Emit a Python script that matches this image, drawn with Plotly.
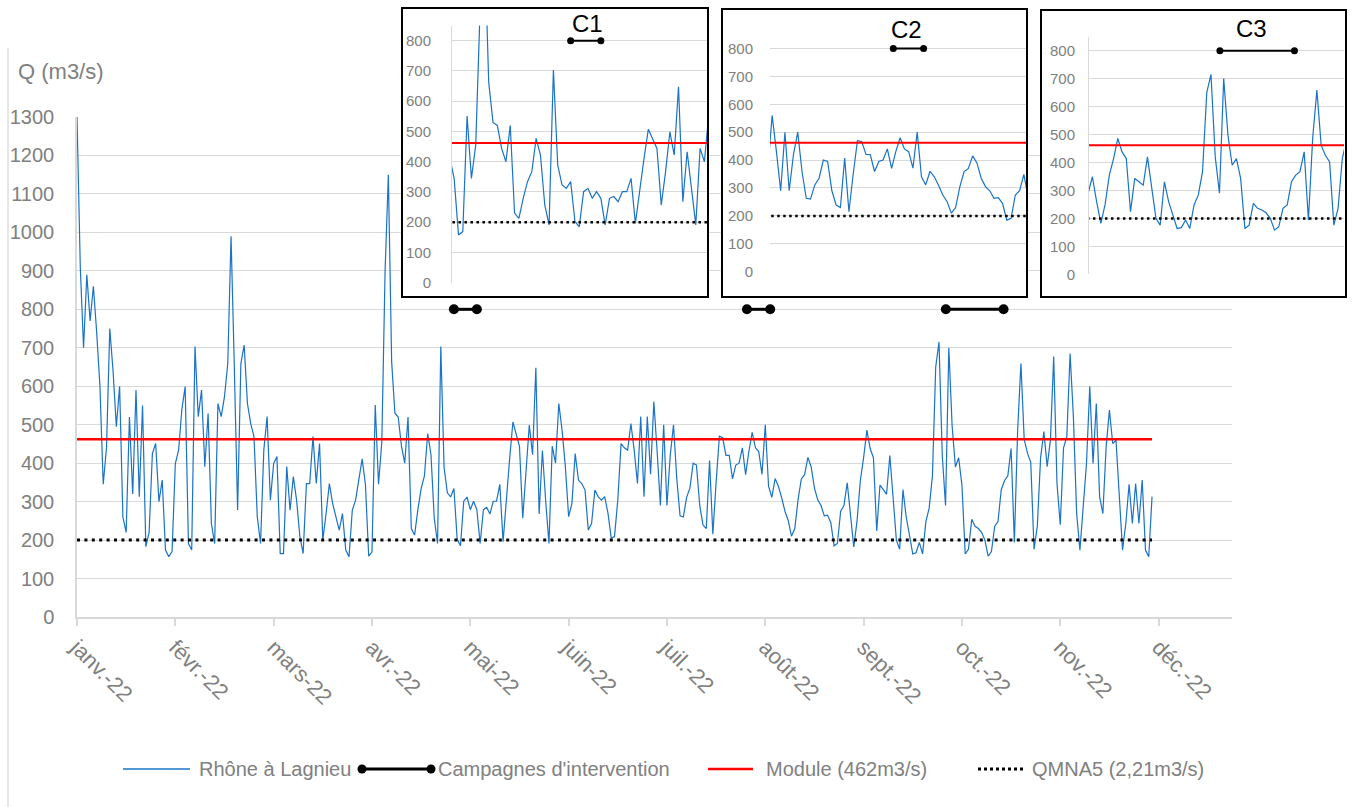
import plotly.graph_objects as go

W, H = 1352, 807

# Daily discharge of the Rhône at Lagnieu (m3/s), day 0 = 1 January 2022
flow = [
    1300, 910, 700, 890, 770, 860, 740, 600, 345, 440,
    750, 640, 495, 600, 260, 220, 520, 320, 590, 313,
    550, 183, 220, 425, 451, 300, 356, 174, 157, 170,
    399, 434, 540, 599, 191, 174, 703, 521, 590, 391,
    529, 243, 191, 555, 521, 573, 659, 990, 651, 278,
    659, 707, 555, 503, 469, 261, 191, 434, 521, 304,
    399, 417, 165, 165, 391, 278, 365, 304, 209, 165,
    347, 347, 469, 347, 451, 200, 269, 347, 295, 261,
    226, 269, 174, 157, 278, 304, 356, 411, 345, 158,
    169, 551, 345, 455, 900, 1150, 664, 530, 520, 444,
    400, 520, 230, 213, 279, 334, 367, 477, 422, 257,
    191, 703, 389, 323, 312, 334, 202, 185, 301, 312,
    279, 301, 279, 191, 279, 285, 268, 301, 301, 345,
    196, 312, 411, 507, 477, 444, 257, 367, 499, 422,
    648, 268, 433, 301, 191, 444, 400, 555, 486, 391,
    261, 295, 425, 356, 347, 330, 226, 243, 330, 313,
    304, 313, 270, 205, 209, 304, 451, 440, 434, 503,
    434, 347, 521, 313, 521, 371, 560, 431, 290, 500,
    290, 420, 500, 359, 263, 260, 311, 335, 400, 395,
    290, 239, 230, 407, 215, 350, 470, 466, 420, 420,
    359, 395, 400, 440, 370, 431, 480, 440, 430, 371,
    500, 340, 311, 360, 340, 310, 275, 251, 210, 230,
    305, 359, 370, 415, 390, 335, 305, 290, 263, 265,
    245, 185, 191, 275, 290, 349, 260, 182, 250, 355,
    414, 486, 438, 414, 224, 343, 331, 319, 420, 307,
    200, 176, 331, 260, 212, 164, 167, 194, 164, 248,
    283, 367, 650, 715, 420, 290, 700, 498, 390, 414,
    343, 164, 176, 254, 236, 230, 220, 200, 158, 170,
    236, 248, 331, 355, 367, 438, 194, 486, 659, 462,
    426, 402, 176, 236, 414, 482, 391, 460, 677, 347,
    240, 440, 469, 685, 521, 269, 174, 295, 399, 599,
    399, 555, 313, 269, 443, 538, 451, 460, 300, 174,
    243, 345, 243, 347, 243, 356, 174, 157, 313,
]
days = list(range(len(flow)))

month_labels = ["janv.-22", "févr.-22", "mars-22", "avr.-22", "mai-22", "juin-22",
                "juil.-22", "août-22", "sept.-22", "oct.-22", "nov.-22", "déc.-22"]
month_ticks = [0, 30, 60, 90, 120, 150, 180, 210, 240, 270, 300, 330]

module_q = 462          # Module
qmna5_q = 200           # QMNA5
campaign_level = 800    # height at which intervention campaigns are drawn

campaign_names = ["C1", "C2", "C3"]
campaign_start = [115.0, 204.4, 265.1]
campaign_end = [122.0, 211.5, 282.7]

# zoom windows (days) shown in the three inset charts
window_start = [87.5, 175.5, 234.2]
window_end = [146.6, 235.5, 294.4]

BLUE = "#1a73c6"
GRID = "#d9d9d9"
LABEL = "#808080"
FONT = "Liberation Sans, Arial, sans-serif"


def fx(px):
    return px / W


def fy(py):
    return 1 - py / H


camp_x, camp_y = [], []
for a, b in zip(campaign_start, campaign_end):
    camp_x += [a, b, None]
    camp_y += [campaign_level, campaign_level, None]

span = [days[0], days[-1]]

fig = go.Figure()


def add_series(xa, ya, flow_w, mod_w, dot_w, dot_dash, camp_w, camp_size):
    fig.add_trace(go.Scatter(x=days, y=flow, mode="lines", line=dict(color=BLUE, width=flow_w),
                             xaxis=xa, yaxis=ya, showlegend=False, hoverinfo="skip"))
    fig.add_trace(go.Scatter(x=camp_x, y=camp_y, mode="lines+markers",
                             line=dict(color="black", width=camp_w),
                             marker=dict(color="black", size=camp_size),
                             xaxis=xa, yaxis=ya, showlegend=False, hoverinfo="skip"))
    fig.add_trace(go.Scatter(x=span, y=[module_q, module_q], mode="lines",
                             line=dict(color="#ff0000", width=mod_w),
                             xaxis=xa, yaxis=ya, showlegend=False, hoverinfo="skip"))
    fig.add_trace(go.Scatter(x=span, y=[qmna5_q, qmna5_q], mode="lines",
                             line=dict(color="black", width=dot_w, dash=dot_dash),
                             xaxis=xa, yaxis=ya, showlegend=False, hoverinfo="skip"))


# main chart
add_series("x", "y", 1.2, 2.5, 3, "3px,4.4px", 3, 10)

# inset frames (white panels), then inset charts
box_px = [(402, 8, 708, 297), (722, 9, 1027, 297), (1041, 10, 1346, 297)]
plot_px = [(452, 25.6, 707, 282.7), (770, 34.5, 1026, 271.7), (1089, 36.7, 1344, 274.3)]
standoff = [17, 16, 10]
axis_line = [True, False, True]
title_pos = [(587, 23), (906, 29.5), (1251, 29)]

for i in range(3):
    n = i + 2
    fig.add_trace(go.Scatter(x=[0.5], y=[0.5], mode="markers", marker=dict(opacity=0),
                             xaxis=f"x{n}", yaxis=f"y{n}", showlegend=False, hoverinfo="skip"))

for i in range(3):
    n = i + 5
    add_series(f"x{n}", f"y{n}", 1.2, 2, 2.5, "2.5px,3.5px", 2, 7)

layout = dict(
    width=W, height=H, autosize=False,
    margin=dict(l=0, r=0, t=0, b=0, pad=0, autoexpand=False),
    paper_bgcolor="white", plot_bgcolor="white",
    font=dict(family=FONT, color=LABEL, size=20),
    showlegend=False,
    xaxis=dict(domain=[fx(77), fx(1232)], range=[0, 352.4],
               tickvals=month_ticks, ticktext=month_labels, tickangle=45,
               ticks="outside", ticklen=7, tickwidth=1.5, tickcolor=GRID,
               showline=True, linecolor=GRID, linewidth=1.5,
               showgrid=False, zeroline=False, anchor="y", automargin=False,
               tickfont=dict(size=22, color=LABEL, family=FONT)),
    yaxis=dict(domain=[fy(617), fy(117)], range=[0, 1300], dtick=100, tick0=0,
               showgrid=True, gridcolor=GRID, gridwidth=1.3,
               showline=True, linecolor=GRID, linewidth=1.5,
               zeroline=False, ticks="", ticklabelstandoff=17, anchor="x", automargin=False,
               tickfont=dict(size=20, color=LABEL, family=FONT)),
)

for i in range(3):
    n = i + 2
    x0, y0, x1, y1 = box_px[i]
    layout[f"xaxis{n}"] = dict(domain=[fx(x0), fx(x1)], range=[0, 1], visible=False,
                               anchor=f"y{n}", automargin=False)
    layout[f"yaxis{n}"] = dict(domain=[fy(y1), fy(y0)], range=[0, 1], visible=False,
                               anchor=f"x{n}", automargin=False)

for i in range(3):
    n = i + 5
    x0, y0, x1, y1 = plot_px[i]
    layout[f"xaxis{n}"] = dict(domain=[fx(x0), fx(x1)], range=[window_start[i], window_end[i]],
                               showgrid=False, showticklabels=False, ticks="",
                               zeroline=False, showline=False, anchor=f"y{n}", automargin=False)
    layout[f"yaxis{n}"] = dict(domain=[fy(y1), fy(y0)], range=[0, 850], dtick=100, tick0=0,
                               showgrid=True, gridcolor=GRID, gridwidth=1,
                               zeroline=False, ticks="",
                               showline=axis_line[i], linecolor=GRID, linewidth=1,
                               ticklabelstandoff=standoff[i], anchor=f"x{n}", automargin=False,
                               tickfont=dict(size=15, color=LABEL, family=FONT))

fig.update_layout(**layout)

shapes = []
# chart area left border
shapes.append(dict(type="line", xref="paper", yref="paper", x0=fx(8), x1=fx(8),
                   y0=fy(48), y1=fy(807), line=dict(color=GRID, width=1.3), layer="above"))
# inset frames
for x0, y0, x1, y1 in box_px:
    shapes.append(dict(type="rect", xref="paper", yref="paper", x0=fx(x0), x1=fx(x1),
                       y0=fy(y1), y1=fy(y0), line=dict(color="black", width=2),
                       fillcolor="rgba(0,0,0,0)", layer="above"))

# legend symbols
LEG_Y = 769
shapes.append(dict(type="line", xref="paper", yref="paper", x0=fx(123), x1=fx(190),
                   y0=fy(LEG_Y), y1=fy(LEG_Y), line=dict(color=BLUE, width=1.5)))
shapes.append(dict(type="line", xref="paper", yref="paper", x0=fx(362), x1=fx(431),
                   y0=fy(LEG_Y), y1=fy(LEG_Y), line=dict(color="black", width=3)))
for cx in (362, 431):
    shapes.append(dict(type="circle", xref="paper", yref="paper",
                       x0=fx(cx - 4.5), x1=fx(cx + 4.5), y0=fy(LEG_Y + 4.5), y1=fy(LEG_Y - 4.5),
                       fillcolor="black", line=dict(color="black", width=0)))
shapes.append(dict(type="line", xref="paper", yref="paper", x0=fx(708), x1=fx(753),
                   y0=fy(LEG_Y), y1=fy(LEG_Y), line=dict(color="#ff0000", width=2.5)))
shapes.append(dict(type="line", xref="paper", yref="paper", x0=fx(978), x1=fx(1025),
                   y0=fy(LEG_Y), y1=fy(LEG_Y), line=dict(color="black", width=3, dash="3px,3px")))
fig.update_layout(shapes=shapes)

annotations = []
annotations.append(dict(text="Q (m3/s)", xref="paper", yref="paper", x=fx(16), y=fy(72),
                        xanchor="left", yanchor="middle", showarrow=False,
                        font=dict(size=22, color=LABEL, family=FONT)))
legend_items = [("Rhône à Lagnieu", 197), ("Campagnes d'intervention", 436),
                ("Module (462m3/s)", 764), ("QMNA5 (2,21m3/s)", 1030)]
for text, lx in legend_items:
    annotations.append(dict(text=text, xref="paper", yref="paper", x=fx(lx), y=fy(LEG_Y),
                            xanchor="left", yanchor="middle", showarrow=False,
                            font=dict(size=20, color=LABEL, family=FONT)))
for name, (tx, ty) in zip(campaign_names, title_pos):
    annotations.append(dict(text=name, xref="paper", yref="paper", x=fx(tx), y=fy(ty),
                            xanchor="center", yanchor="middle", showarrow=False,
                            font=dict(size=24, color="black", family=FONT)))
fig.update_layout(annotations=annotations)

fig.write_html("out.html")
